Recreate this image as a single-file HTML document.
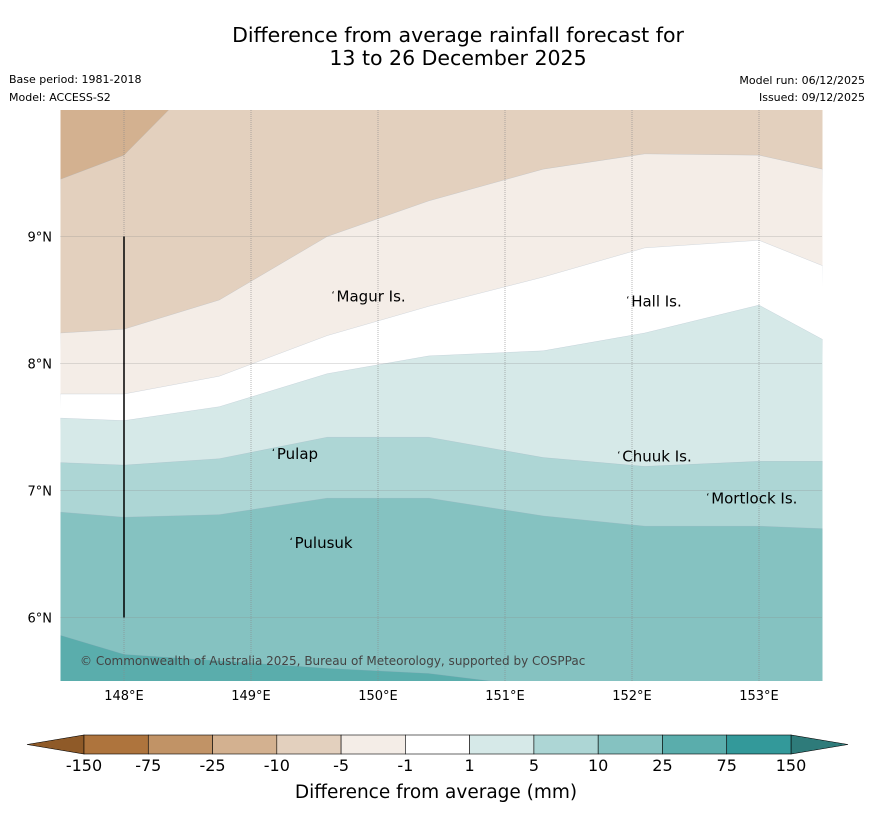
<!DOCTYPE html>
<html><head><meta charset="utf-8"><style>
body{margin:0;background:#fff;width:873px;height:816px;overflow:hidden;font-family:"Liberation Sans","DejaVu Sans",sans-serif}
svg text{font-family:"DejaVu Sans","Liberation Sans",sans-serif}
</style></head><body>
<svg width="873" height="816" xmlns="http://www.w3.org/2000/svg">
<text x="458" y="42" font-size="20.5" text-anchor="middle">Difference from average rainfall forecast for</text>
<text x="458" y="65" font-size="20.5" text-anchor="middle">13 to 26 December 2025</text>
<text x="9" y="83" font-size="11">Base period: 1981-2018</text>
<text x="9" y="101" font-size="11">Model: ACCESS-S2</text>
<text x="865" y="84" font-size="11" text-anchor="end">Model run: 06/12/2025</text>
<text x="865" y="101" font-size="11" text-anchor="end">Issued: 09/12/2025</text>
<g id="map"></g>
<g id="cbar"></g>
<text x="436" y="798" font-size="18.5" text-anchor="middle">Difference from average (mm)</text>
</svg>
<script>
const lonTicks=[148,149,150,151,152,153];
const latTicks=[6,7,8,9];
const levels=["-150","-75","-25","-10","-5","-1","1","5","10","25","75","150"];
const bandColors=["#AE743D","#C19366","#D3B190","#E3D0BE","#F4EDE7","#FFFFFF","#D6E9E8","#ADD6D5","#85C2C1","#5AADAC","#33999A"];
// contour boundary lon positions and latitudes (top to bottom)
const bLon=[147.5,148,148.75,149.6,150.4,151.3,152.1,153,153.5];
const b1=[9.45,9.64,10.4,10.4,10.4,10.4,10.4,10.4,10.4];
const b2=[8.24,8.27,8.5,9.0,9.28,9.53,9.65,9.64,9.53];
const b3=[7.76,7.76,7.9,8.22,8.45,8.68,8.91,8.97,8.77];
const b4=[7.57,7.55,7.66,7.92,8.06,8.1,8.24,8.46,8.19];
const b5=[7.22,7.2,7.25,7.42,7.42,7.26,7.19,7.23,7.23];
const b6=[6.83,6.79,6.81,6.94,6.94,6.8,6.72,6.72,6.7];
const b7=[5.86,5.71,5.66,5.6,5.56,5.45,5.4,5.4,5.4];
const bounds=[b1,b2,b3,b4,b5,b6,b7];
const fills=["#D3B190","#E3D0BE","#F4EDE7","#FFFFFF","#D6E9E8","#ADD6D5","#85C2C1","#5AADAC"];
const places=[["Magur Is.",149.65,8.56],["Hall Is.",151.97,8.52],["Pulap",149.18,7.32],["Chuuk Is.",151.9,7.3],["Mortlock Is.",152.6,6.97],["Pulusuk",149.32,6.62]];
const NS="http://www.w3.org/2000/svg";
const X0=60.5,X1=822.5,Y0=110,Y1=681,LON0=147.5,LON1=153.5,LAT0=5.5,LAT1=9.996;
const xs=l=>X0+(l-LON0)/(LON1-LON0)*(X1-X0);
const ys=l=>Y1-(l-LAT0)/(LAT1-LAT0)*(Y1-Y0);
const map=document.getElementById('map');
function mk(tag,at,parent){const e=document.createElementNS(NS,tag);for(const k in at)e.setAttribute(k,at[k]);parent.appendChild(e);return e;}
const cp=mk('clipPath',{id:'mc'},map);mk('rect',{x:X0,y:Y0,width:X1-X0,height:Y1-Y0},cp);
const g=mk('g',{'clip-path':'url(#mc)'},map);
const bg=mk('rect',{x:X0,y:Y0,width:X1-X0,height:Y1-Y0,fill:fills[0]},g);


bounds.forEach((b,i)=>{
  let d=bLon.map((l,j)=>(j?'L':'M')+xs(l).toFixed(1)+','+ys(b[j]).toFixed(1)).join('');
  d+=`L${X1+5},${Y1+5}L${X0-5},${Y1+5}Z`;
  const p=mk('path',{d:d,fill:fills[i+1],stroke:'#9ab',"stroke-width":0.4,"stroke-opacity":0.5},g);
  
  
});
lonTicks.forEach(l=>{
  const ln=mk('line',{x1:xs(l),x2:xs(l),y1:Y0,y2:Y1,stroke:'#888',"stroke-width":0.6,"stroke-dasharray":"1,1"},map);
  
  
  const t=mk('text',{x:xs(l),y:700,"font-size":13,"text-anchor":"middle"},map);t.textContent=l+'°E';
  
  
});
latTicks.forEach(l=>{
  const ln=mk('line',{x1:X0,x2:X1,y1:ys(l),y2:ys(l),stroke:'#888',"stroke-width":0.6,"stroke-dasharray":"1,1"},map);
  
  
  const t=mk('text',{x:52,y:ys(l)+5,"font-size":13,"text-anchor":"end"},map);t.textContent=l+'°N';
  
  
});
const vl=mk('line',{x1:xs(148),x2:xs(148),y1:ys(9),y2:ys(6),stroke:'#000',"stroke-width":1.5},map);


places.forEach(p=>{
  const t=mk('text',{x:xs(p[1])+3,y:ys(p[2])+9,"font-size":15},map);t.textContent=p[0];
  
  
  const m=mk('text',{x:xs(p[1])-2,y:ys(p[2])+6,"font-size":10},map);m.textContent='ʻ';
  
  
});
const cr=mk('text',{x:80,y:665,"font-size":12,fill:'#444'},map);cr.textContent='© Commonwealth of Australia 2025, Bureau of Meteorology, supported by COSPPac';


// colorbar
const cb=document.getElementById('cbar');
const CX0=84,CX1=791,CY0=735,CY1=754,w=(CX1-CX0)/bandColors.length;
const lt=mk('polygon',{points:`27,744.5 ${CX0},${CY0} ${CX0},${CY1}`,fill:'#8F5A28',stroke:'#000',"stroke-width":0.6},cb);


const rt=mk('polygon',{points:`848,744.5 ${CX1},${CY0} ${CX1},${CY1}`,fill:'#2E7B7A',stroke:'#000',"stroke-width":0.6},cb);


bandColors.forEach((c,i)=>{
  const r=mk('rect',{x:CX0+i*w,y:CY0,width:w,height:CY1-CY0,fill:c,stroke:'#000',"stroke-width":0.6},cb);
  
  
});
levels.forEach((lv,i)=>{
  const t=mk('text',{x:CX0+i*w,y:771,"font-size":16,"text-anchor":"middle"},cb);t.textContent=lv;
  
  
});
</script>
</body></html>
